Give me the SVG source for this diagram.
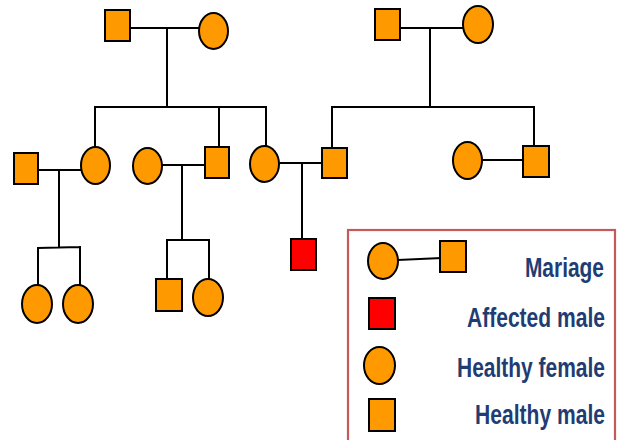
<svg xmlns="http://www.w3.org/2000/svg" width="618" height="440" viewBox="0 0 618 440">
<style>
.m{fill:#FF9900;stroke:#000;stroke-width:2}
.a{fill:#FF0000;stroke:#000;stroke-width:2}
.f{fill:#FF9900;stroke:#000;stroke-width:2}
.c{fill:none;stroke:#000;stroke-width:2;stroke-linecap:square}
.t{fill:#1F3D73;font-family:"Liberation Sans",Arial,sans-serif;font-weight:bold;font-size:27px;text-anchor:end}
</style>
<rect width="618" height="440" fill="#fff"/>
<g id="connectors">
<path class="c" d="M130 28H199M167 28V107M95 107H266M95 107V147M219 107V147M266 107V146"/>
<path class="c" d="M400 28H463M430 28V107M332 107H534M332 107V148M534 107V146"/>
<path class="c" d="M38 170H81M59 170V247M38 248L80 247M38 248V285M80 247V285"/>
<path class="c" d="M162 165H205M182 165V240M167 240H209M167 240V279M209 240V280"/>
<path class="c" d="M279 163H322M302 163V239"/>
<path class="c" d="M482 160H523"/>
</g>
<g id="gp1-male"><rect class="m" x="105" y="10" width="25" height="31"/></g>
<g id="gp1-female"><ellipse class="f" cx="213.5" cy="31" rx="14.5" ry="18"/></g>
<g id="gp2-male"><rect class="m" x="375" y="9" width="25" height="31"/></g>
<g id="gp2-female"><ellipse class="f" cx="478" cy="24.5" rx="15" ry="18.5"/></g>
<g id="husband1"><rect class="m" x="14" y="153" width="24" height="31"/></g>
<g id="daughter1"><ellipse class="f" cx="95.5" cy="165.5" rx="14.5" ry="18.5"/></g>
<g id="wife2"><ellipse class="f" cx="147.5" cy="166" rx="14.5" ry="18"/></g>
<g id="son1"><rect class="m" x="205" y="147" width="24" height="31"/></g>
<g id="daughter2"><ellipse class="f" cx="264.5" cy="164" rx="14.5" ry="18"/></g>
<g id="son2"><rect class="m" x="322" y="148" width="25" height="30"/></g>
<g id="wife3"><ellipse class="f" cx="467.5" cy="160.5" rx="14.5" ry="18.5"/></g>
<g id="son3"><rect class="m" x="523" y="146" width="26" height="31"/></g>
<g id="gc1"><ellipse class="f" cx="37" cy="304" rx="15" ry="19"/></g>
<g id="gc2"><ellipse class="f" cx="78" cy="304" rx="15" ry="19"/></g>
<g id="gc3"><rect class="m" x="156" y="279" width="26" height="32"/></g>
<g id="gc4"><ellipse class="f" cx="208" cy="297.5" rx="15" ry="18.5"/></g>
<g id="gc5-affected"><rect class="a" x="291" y="239" width="25" height="31"/></g>
<g id="legend">
<rect x="348" y="230" width="267" height="220" fill="none" stroke="#C55A58" stroke-width="2.2"/>
<path class="c" d="M398 260L441 258" stroke-width="1.5"/>
<ellipse class="f" cx="383" cy="261" rx="15" ry="18"/>
<rect class="m" x="440" y="241" width="26" height="31"/>
<rect class="a" x="369" y="298" width="26" height="31"/>
<ellipse class="f" cx="379.5" cy="365.5" rx="15.5" ry="18.5"/>
<rect class="m" x="369" y="399" width="26" height="32"/>
<text class="t" transform="translate(604 277) scale(0.775 1)">Mariage</text>
<text class="t" transform="translate(605 327) scale(0.78 1)">Affected male</text>
<text class="t" transform="translate(605 377) scale(0.777 1)">Healthy female</text>
<text class="t" transform="translate(605 424) scale(0.78 1)">Healthy male</text>
</g>
</svg>
